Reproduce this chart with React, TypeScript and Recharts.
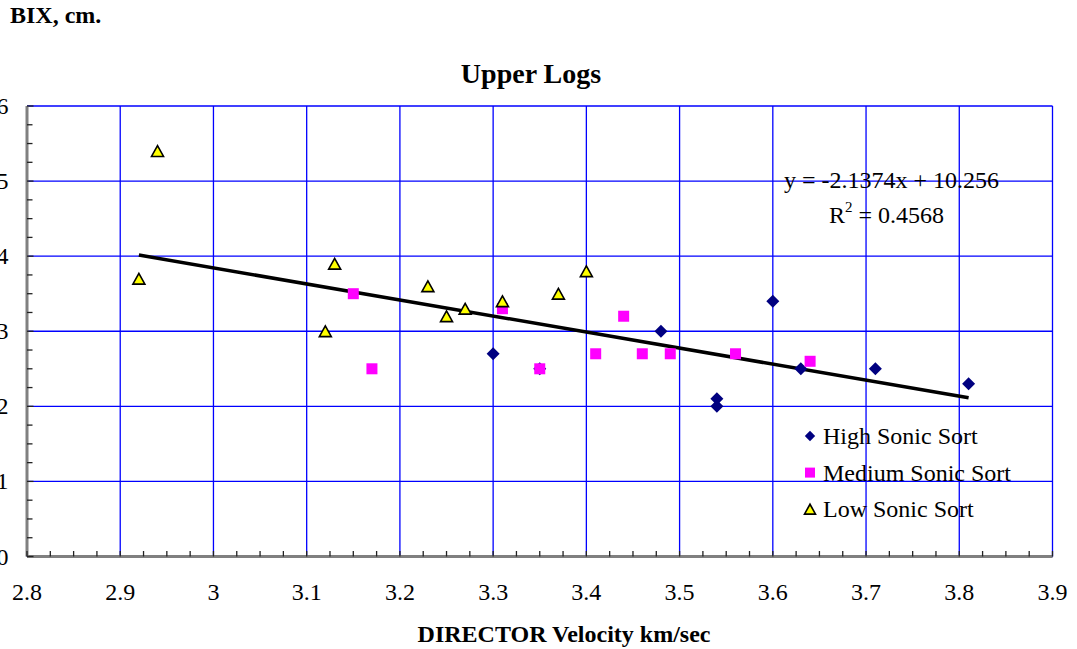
import React from 'react';
import { ScatterChart, Scatter, XAxis, YAxis, CartesianGrid } from 'recharts';

const SERIF = "'Liberation Serif', 'Times New Roman', serif";

// axis ticks
const X_MAJOR = [2.8, 2.9, 3, 3.1, 3.2, 3.3, 3.4, 3.5, 3.6, 3.7, 3.8, 3.9];
const Y_MAJOR = [0, 1, 2, 3, 4, 5, 6];

// High Sonic Sort
const HIGH_X = [3.3, 3.35, 3.48, 3.54, 3.54, 3.6, 3.63, 3.71, 3.81];
const HIGH_Y = [2.7, 2.5, 3.0, 2.1, 2.0, 3.4, 2.5, 2.5, 2.3];

// Medium Sonic Sort
const MED_X = [3.15, 3.17, 3.31, 3.35, 3.41, 3.44, 3.46, 3.49, 3.56, 3.64];
const MED_Y = [3.5, 2.5, 3.3, 2.5, 2.7, 3.2, 2.7, 2.7, 2.7, 2.6];

// Low Sonic Sort
const LOW_X = [2.92, 2.94, 3.12, 3.13, 3.23, 3.25, 3.27, 3.31, 3.37, 3.4];
const LOW_Y = [3.7, 5.4, 3.0, 3.9, 3.6, 3.2, 3.3, 3.4, 3.5, 3.8];

// linear trendline end points (y = -2.1374x + 10.256)
const TREND_X = [2.92, 3.81];
const TREND_Y = [4.015, 2.113];

const zip = (xs: number[], ys: number[]) => xs.map((x, i) => ({ x, y: ys[i] }));

const HIGH = zip(HIGH_X, HIGH_Y);
const MED = zip(MED_X, MED_Y);
const LOW = zip(LOW_X, LOW_Y);
const TREND = zip(TREND_X, TREND_Y);

// 3 minor ticks between majors
const withMinor = (major: number[]) => {
  const out: number[] = [];
  for (let i = 0; i < major.length - 1; i++) {
    const step = (major[i + 1] - major[i]) / 4;
    for (let k = 0; k < 4; k++) out.push(+(major[i] + step * k).toFixed(4));
  }
  out.push(major[major.length - 1]);
  return out;
};
const X_TICKS = withMinor(X_MAJOR);
const Y_TICKS = withMinor(Y_MAJOR);

const isMajor = (list: number[], v: number) => list.some((m) => Math.abs(m - v) < 1e-6);

function Diamond({ cx, cy, r = 6.5 }: any) {
  return <polygon points={`${cx},${cy - r} ${cx + r},${cy} ${cx},${cy + r} ${cx - r},${cy}`} fill="#000080" />;
}

function Square({ cx, cy, r = 5.5 }: any) {
  return <rect x={cx - r} y={cy - r} width={r * 2} height={r * 2} fill="#FF00FF" />;
}

function Triangle({ cx, cy, r = 6 }: any) {
  const h = r * 0.9;
  return (
    <polygon
      points={`${cx},${cy - h} ${cx + r},${cy + h} ${cx - r},${cy + h}`}
      fill="#FFFF00"
      stroke="#000"
      strokeWidth={1.6}
      strokeLinejoin="miter"
    />
  );
}

function XTick({ x, y, payload }: any) {
  const major = isMajor(X_MAJOR, payload.value);
  return (
    <g>
      <line x1={x} y1={y} x2={x} y2={y - 5.5} stroke="#222" strokeWidth={1.3} />
      {major && (
        <text x={x} y={y + 43.5} textAnchor="middle" fontSize={24} fontFamily={SERIF} fill="#000">
          {String(Math.round(payload.value * 10) / 10)}
        </text>
      )}
    </g>
  );
}

function YTick({ x, y, payload }: any) {
  const major = isMajor(Y_MAJOR, payload.value);
  return (
    <g>
      <line x1={x} y1={y} x2={x + (major ? 6.5 : 5.5)} y2={y} stroke="#222" strokeWidth={1.3} />
      {major && (
        <text x={x - 18.5} y={y + 8} textAnchor="end" fontSize={24} fontFamily={SERIF} fill="#000">
          {payload.value}
        </text>
      )}
    </g>
  );
}

const LEGEND = [
  { label: 'High Sonic Sort', Mark: Diamond, r: 5.2 },
  { label: 'Medium Sonic Sort', Mark: Square, r: 5 },
  { label: 'Low Sonic Sort', Mark: Triangle, r: 5.5 },
];

export default function App() {
  return (
    <div style={{ position: 'absolute', left: 0, top: 0, width: 1077, height: 649, background: '#fff' }}>
      <ScatterChart width={1077} height={649} margin={{ top: 106, right: 24.5, bottom: 52.5, left: 0 }}>
        <CartesianGrid
          stroke="#0000FF"
          strokeWidth={1.3}
          verticalValues={X_MAJOR}
          horizontalValues={Y_MAJOR}
        />
        <XAxis
          type="number"
          dataKey="x"
          domain={[2.8, 3.9]}
          ticks={X_TICKS}
          interval={0}
          height={40}
          tickSize={0}
          tickMargin={0}
          tickLine={false}
          axisLine={{ stroke: '#808080', strokeWidth: 3 }}
          tick={<XTick />}
          allowDataOverflow
        />
        <YAxis
          type="number"
          dataKey="y"
          domain={[0, 6]}
          ticks={Y_TICKS}
          interval={0}
          width={27}
          tickSize={0}
          tickMargin={0}
          tickLine={false}
          axisLine={{ stroke: '#808080', strokeWidth: 3 }}
          tick={<YTick />}
          allowDataOverflow
        />
        <Scatter
          data={TREND}
          line={{ stroke: '#000', strokeWidth: 3.5 }}
          shape={() => <g />}
          isAnimationActive={false}
        />
        <Scatter data={HIGH} shape={(p: any) => <Diamond cx={p.cx} cy={p.cy} />} isAnimationActive={false} />
        <Scatter data={MED} shape={(p: any) => <Square cx={p.cx} cy={p.cy} />} isAnimationActive={false} />
        <Scatter data={LOW} shape={(p: any) => <Triangle cx={p.cx} cy={p.cy} />} isAnimationActive={false} />
      </ScatterChart>

      <svg
        width={1077}
        height={649}
        style={{ position: 'absolute', left: 0, top: 0, pointerEvents: 'none' }}
        fontFamily={SERIF}
      >
        <text x={10} y={23} fontSize={24} fontWeight="bold">BIX, cm.</text>
        <text x={531} y={83} fontSize={28} fontWeight="bold" textAnchor="middle">Upper Logs</text>
        <text x={564} y={642} fontSize={24} fontWeight="bold" textAnchor="middle">DIRECTOR Velocity km/sec</text>

        <text x={784} y={188} fontSize={24}>y = -2.1374x + 10.256</text>
        <text x={829} y={223} fontSize={24}>
          R<tspan fontSize={15} dy={-11}>2</tspan>
          <tspan dy={11}> = 0.4568</tspan>
        </text>

        {LEGEND.map((item, i) => (
          <g key={item.label}>
            <item.Mark cx={810} cy={436 + i * 36.6} r={item.r} />
            <text x={823} y={444 + i * 36.6} fontSize={24}>{item.label}</text>
          </g>
        ))}
      </svg>
    </div>
  );
}
